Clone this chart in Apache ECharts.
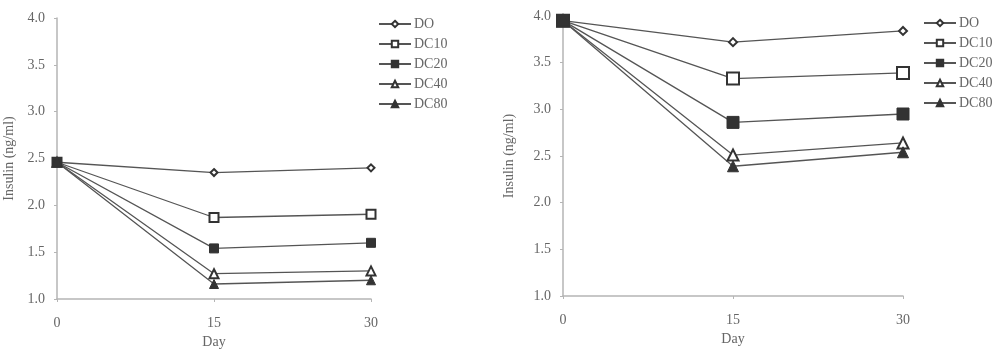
<!DOCTYPE html>
<html>
<head>
<meta charset="utf-8">
<script src="https://cdn.jsdelivr.net/npm/echarts@6/dist/echarts.min.js"></script>
<style>
html, body { margin: 0; padding: 0; background: #fff; }
#main { width: 1000px; height: 352px; }
</style>
</head>
<body>
<div id="main"></div>
<script>
var days = [0, 15, 30];
var groupNames = ['DO', 'DC10', 'DC20', 'DC40', 'DC80'];
var symbols = ['emptyDiamond', 'emptyRect', 'rect', 'emptyTriangle', 'triangle'];

// left panel
var leftDO = [2.46, 2.35, 2.40];
var leftDC10 = [2.46, 1.87, 1.905];
var leftDC20 = [2.46, 1.54, 1.60];
var leftDC40 = [2.46, 1.27, 1.30];
var leftDC80 = [2.46, 1.16, 1.20];

// right panel
var rightDO = [3.95, 3.72, 3.84];
var rightDC10 = [3.95, 3.33, 3.39];
var rightDC20 = [3.95, 2.86, 2.95];
var rightDC40 = [3.95, 2.51, 2.64];
var rightDC80 = [3.95, 2.39, 2.54];

var leftData = [leftDO, leftDC10, leftDC20, leftDC40, leftDC80];
var rightData = [rightDO, rightDC10, rightDC20, rightDC40, rightDC80];

var dom = document.getElementById('main');
var myChart = echarts.init(dom);

var font = 'Liberation Serif';
var axisGray = '#b5b5b5';
var textGray = '#666';
var lineColor = '#555';

function xAxisOf(idx) {
    return {
        type: 'value', gridIndex: idx, min: 0, max: 30, interval: 15,
        name: 'Day', nameLocation: 'middle', nameGap: 36,
        nameTextStyle: { fontFamily: font, fontSize: 14, color: textGray },
        axisLine: { show: true, lineStyle: { color: axisGray, width: 1.5 } },
        axisTick: { show: true, length: 3, lineStyle: { color: axisGray } },
        axisLabel: { margin: 17, fontFamily: font, fontSize: 14, color: textGray },
        splitLine: { show: false }
    };
}
function yAxisOf(idx, gap) {
    return {
        type: 'value', gridIndex: idx, min: 1, max: 4, interval: 0.5,
        name: 'Insulin (ng/ml)', nameLocation: 'middle', nameGap: gap,
        nameTextStyle: { fontFamily: font, fontSize: 14, color: textGray },
        axisLine: { show: true, lineStyle: { color: axisGray, width: 1.5 } },
        axisTick: { show: true, length: 3, lineStyle: { color: axisGray } },
        axisLabel: { margin: 12, fontFamily: font, fontSize: 14, color: textGray,
            formatter: function (v) { return v.toFixed(1); } },
        splitLine: { show: false }
    };
}

var series = [];
var sizesL = [7, 9, 9, 9, 9];
var sizesR = [8, 12, 12, 11, 11];
for (var i = 0; i < groupNames.length; i++) {
    series.push({
        name: groupNames[i], type: 'line', xAxisIndex: 0, yAxisIndex: 0,
        symbol: symbols[i], symbolSize: sizesL[i],
        data: days.map(function (d, k) { return [d, leftData[i][k]]; }),
        lineStyle: { color: lineColor, width: 1.3 },
        itemStyle: { color: '#333', borderColor: '#333', borderWidth: 1 }
    });
    series.push({
        name: groupNames[i], type: 'line', xAxisIndex: 1, yAxisIndex: 1,
        symbol: symbols[i], symbolSize: sizesR[i],
        data: days.map(function (d, k) { return [d, rightData[i][k]]; }),
        lineStyle: { color: lineColor, width: 1.3 },
        itemStyle: { color: '#333', borderColor: '#333', borderWidth: 1 }
    });
}

var legendBase = {
    orient: 'vertical', itemWidth: 32, itemHeight: 8, itemGap: 6,
    padding: 0,
    data: groupNames,
    textStyle: { fontFamily: font, fontSize: 14, color: textGray, padding: [0, 0, 0, -2] },
    inactiveColor: '#333'
};

var option = {
    animation: false,
    backgroundColor: '#fff',
    grid: [
        { left: 57, top: 18, width: 314, bottom: 53, outerBoundsMode: 'none' },
        { left: 563, top: 16, width: 340, bottom: 56, outerBoundsMode: 'none' }
    ],
    xAxis: [xAxisOf(0), xAxisOf(1)],
    yAxis: [yAxisOf(0, 41), yAxisOf(1, 47)],
    legend: [
        Object.assign({}, legendBase, { left: 378, top: 17 }),
        Object.assign({}, legendBase, { left: 923, top: 16 })
    ],
    series: series
};
myChart.setOption(option);
</script>
</body>
</html>
